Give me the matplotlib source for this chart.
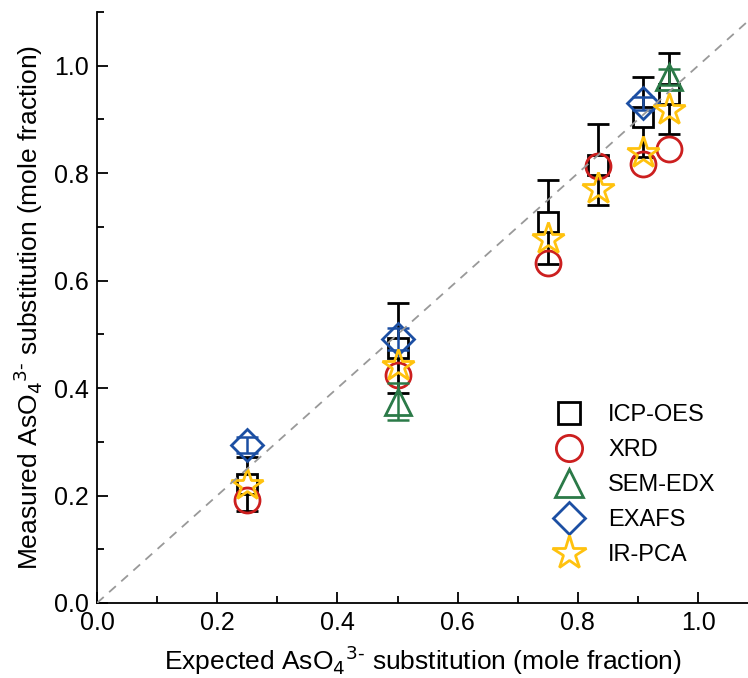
import matplotlib
matplotlib.use('Agg')
import matplotlib.pyplot as plt
from matplotlib.ticker import MultipleLocator

plt.rcParams['font.family'] = ['Liberation Sans', 'DejaVu Sans']

# expected substitution (x) and measured values per method
icp_x = [0.25, 0.5, 0.75, 0.833, 0.909, 0.952]
icp_y = [0.222, 0.475, 0.709, 0.816, 0.905, 0.948]
icp_err = [0.05, 0.084, 0.078, 0.075, 0.074, 0.076]

xrd_x = [0.25, 0.5, 0.75, 0.833, 0.909, 0.952]
xrd_y = [0.192, 0.425, 0.632, 0.813, 0.818, 0.845]

sem_x = [0.5, 0.952]
sem_y = [0.375, 0.979]
sem_err = [0.034, 0.015]

exafs_x = [0.25, 0.5, 0.909]
exafs_y = [0.294, 0.491, 0.930]
exafs_err = [0.015, 0.02, 0.012]

ir_x = [0.25, 0.5, 0.75, 0.833, 0.909, 0.952]
ir_y = [0.219, 0.442, 0.678, 0.770, 0.837, 0.918]

red = '#cc1f1f'
green = '#2b7a48'
blue = '#1c4fa3'
gold = '#ffc20e'

fig = plt.figure(figsize=(7.48, 6.78), dpi=100)
ax = fig.add_axes([97 / 748, 75 / 678, 651 / 748, 591 / 678])

# 1:1 line
ax.plot([0, 1.2], [0, 1.2], ls=(0, (5, 4)), color='#999999', lw=1.3, zorder=10)

# ICP-OES with error bars (stem hidden behind the hollow square)
ax.errorbar(icp_x, icp_y, yerr=icp_err, fmt='none', ecolor='black',
            elinewidth=2, capsize=8, capthick=2, zorder=2)
ax.plot(icp_x, icp_y, 's', ms=15, mfc='white', mec='black', mew=2,
        ls='none', zorder=3, label='ICP-OES')

ax.plot(xrd_x, xrd_y, 'o', ms=18, mfc='none', mec=red, mew=2,
        ls='none', zorder=4, label='XRD')

ax.errorbar(sem_x, sem_y, yerr=sem_err, fmt='none', ecolor=green,
            elinewidth=1.8, capsize=8, capthick=1.8, zorder=4)
ax.plot(sem_x, sem_y, '^', ms=19, mfc='none', mec=green, mew=2,
        ls='none', zorder=4, label='SEM-EDX')

ax.errorbar(exafs_x, exafs_y, yerr=exafs_err, fmt='none', ecolor=blue,
            elinewidth=1.8, capsize=8, capthick=1.8, zorder=4)
ax.plot(exafs_x, exafs_y, 'D', ms=16, mfc='none', mec=blue, mew=2,
        ls='none', zorder=4, label='EXAFS')

ax.plot(ir_x, ir_y, '*', ms=24, mfc='none', mec=gold, mew=2,
        ls='none', zorder=5, label='IR-PCA')

ax.set_xlim(0, 1.083)
ax.set_ylim(0, 1.1)
ax.xaxis.set_major_locator(MultipleLocator(0.2))
ax.xaxis.set_minor_locator(MultipleLocator(0.1))
ax.yaxis.set_major_locator(MultipleLocator(0.2))
ax.yaxis.set_minor_locator(MultipleLocator(0.1))
ax.xaxis.set_major_formatter(plt.FormatStrFormatter('%.1f'))
ax.yaxis.set_major_formatter(plt.FormatStrFormatter('%.1f'))
ax.tick_params(which='both', direction='in', width=1.3, labelsize=18)
ax.tick_params(which='major', length=8, pad=6)
ax.tick_params(which='minor', length=5)
ax.spines['top'].set_visible(False)
ax.spines['right'].set_visible(False)
ax.spines['left'].set_linewidth(1.3)
ax.spines['bottom'].set_linewidth(1.3)

ax.set_xlabel('Expected AsO$_4$$^{3\u2010}$ substitution (mole fraction)', fontsize=19, labelpad=6)
ax.set_ylabel('Measured AsO$_4$$^{3\u2010}$ substitution (mole fraction)', fontsize=19, labelpad=6)

ax.legend(loc='lower right', bbox_to_anchor=(0.972, 0.039), frameon=False, fontsize=17,
          handletextpad=0.65, labelspacing=0.55, borderaxespad=0.2, markerscale=1.05)

fig.savefig('out.png', dpi=100)
